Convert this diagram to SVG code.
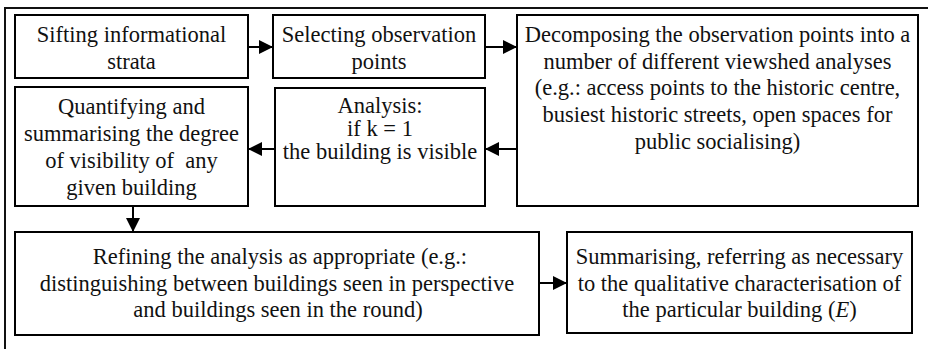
<svg xmlns="http://www.w3.org/2000/svg" width="928" height="349" viewBox="0 0 928 349">
  <style>
    .box { fill: #ffffff; stroke: #000000; stroke-width: 2; }
    .frame { fill: none; stroke: #111111; stroke-width: 2; }
    .edge { fill: none; stroke: #000000; stroke-width: 2; }
    .lbl { font-family: "Liberation Serif", "Times New Roman", serif; font-size: 22.5px; fill: #111111; text-anchor: middle; }
  </style>
  <defs>
    <marker id="head" viewBox="0 0 14 14" refX="14" refY="7" markerWidth="14" markerHeight="14" markerUnits="userSpaceOnUse" orient="auto">
      <path d="M0,0 L14,7 L0,14 Z" fill="#000000"/>
    </marker>
  </defs>
  <rect width="928" height="349" fill="#ffffff"/>

  <!-- open outer frame: top and left rules only -->
  <path class="frame" d="M5,349 L5,8 L928,8"/>

  <g id="n-sifting" class="lbl">
    <rect class="box" x="15" y="15" width="233" height="63"/>
    <text x="131.5" y="41.5">Sifting informational</text>
    <text x="131.5" y="68.5">strata</text>
  </g>

  <g id="n-selecting" class="lbl">
    <rect class="box" x="273" y="15" width="212" height="63"/>
    <text x="379" y="41.5">Selecting observation</text>
    <text x="379" y="68.5">points</text>
  </g>

  <g id="n-decomposing" class="lbl">
    <rect class="box" x="517" y="15" width="401" height="191"/>
    <text x="717.5" y="41.5">Decomposing the observation points into a</text>
    <text x="717.5" y="68.5">number of different viewshed analyses</text>
    <text x="717.5" y="95">(e.g.: access points to the historic centre,</text>
    <text x="717.5" y="122">busiest historic streets, open spaces for</text>
    <text x="717.5" y="149">public socialising)</text>
  </g>

  <g id="n-analysis" class="lbl">
    <rect class="box" x="275" y="88" width="210" height="118"/>
    <text x="380" y="113">Analysis:</text>
    <text x="380" y="136">if k = 1</text>
    <text x="380" y="159">the building is visible</text>
  </g>

  <g id="n-quantifying" class="lbl">
    <rect class="box" x="15" y="87" width="233" height="119"/>
    <text x="131.5" y="114">Quantifying and</text>
    <text x="131.5" y="141">summarising the degree</text>
    <text x="131.5" y="168" xml:space="preserve">of visibility of  any</text>
    <text x="131.5" y="195">given building</text>
  </g>

  <g id="n-refining" class="lbl">
    <rect class="box" x="15" y="232" width="524" height="103"/>
    <text x="280" y="264">Refining the analysis as appropriate (e.g.:</text>
    <text x="277" y="290.5">distinguishing between buildings seen in perspective</text>
    <text x="278" y="317">and buildings seen in the round)</text>
  </g>

  <g id="n-summarising" class="lbl">
    <rect class="box" x="567" y="232" width="345" height="101"/>
    <text x="739.5" y="264">Summarising, referring as necessary</text>
    <text x="739.5" y="290.5">to the qualitative characterisation of</text>
    <text x="739.5" y="317">the particular building (<tspan font-style="italic">E</tspan>)</text>
  </g>

  <g id="connectors">
    <path class="edge" d="M248,47 L273,47" marker-end="url(#head)"/>
    <path class="edge" d="M485,47 L517,47" marker-end="url(#head)"/>
    <path class="edge" d="M517,149 L485,149" marker-end="url(#head)"/>
    <path class="edge" d="M275,149 L248,149" marker-end="url(#head)"/>
    <path class="edge" d="M133,206 L133,232" marker-end="url(#head)"/>
    <path class="edge" d="M539,283 L567,283" marker-end="url(#head)"/>
  </g>
</svg>
